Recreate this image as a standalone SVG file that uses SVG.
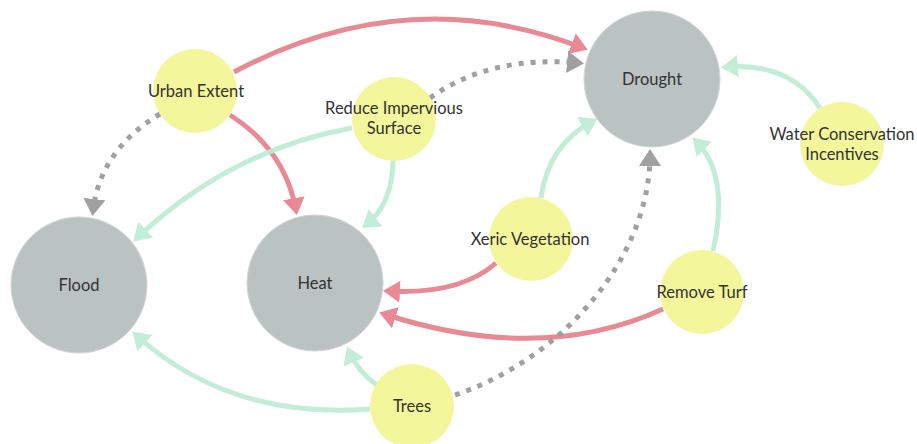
<svg xmlns="http://www.w3.org/2000/svg" width="917" height="444" viewBox="0 0 917 444">
<defs>
<style>
.e{fill:none;stroke-width:5;opacity:0.92}
.red{stroke:#e8808c}
.grn{stroke:#bdecd3}
.dot{stroke:#999999;stroke-dasharray:5 7}
.big{fill:#bbc3c2;stroke:#d3d8d7;stroke-width:1}
.sml{fill:#f3f69b}
text{font-family:Lato,"Open Sans","Liberation Sans",sans-serif;font-size:16.5px;fill:#333333;text-anchor:middle}
</style>
<marker id="ar" viewBox="0 0 17 22" refX="12" refY="11" markerWidth="17" markerHeight="22" markerUnits="userSpaceOnUse" orient="auto"><path d="M0,0 L17,11 L0,22 z" fill="#e8808c"/></marker>
<marker id="ag" viewBox="0 0 17 22" refX="12" refY="11" markerWidth="17" markerHeight="22" markerUnits="userSpaceOnUse" orient="auto"><path d="M0,0 L17,11 L0,22 z" fill="#bdecd3"/></marker>
<marker id="ad" viewBox="0 0 17 22" refX="12" refY="11" markerWidth="17" markerHeight="22" markerUnits="userSpaceOnUse" orient="auto"><path d="M0,0 L17,11 L0,22 z" fill="#999999"/></marker>
</defs>
<g id="connectors">
<path class="e red" d="M234,72 Q408,-20 583,48" marker-end="url(#ar)"/>
<path class="e red" d="M230,115 Q285,150 296,210" marker-end="url(#ar)"/>
<path class="e dot" d="M160,114 Q100,150 93,211" marker-end="url(#ad)"/>
<path class="e dot" d="M430,98 Q490,55 579,63" marker-end="url(#ad)"/>
<path class="e grn" d="M393,161 Q392,205 366,225" marker-end="url(#ag)"/>
<path class="e grn" d="M352,128 Q230,150 137,238" marker-end="url(#ag)"/>
<path class="e grn" d="M820,108 Q790,62 726,67" marker-end="url(#ag)"/>
<path class="e grn" d="M541,198 Q548,145 593,121" marker-end="url(#ag)"/>
<path class="e red" d="M496,263 Q460,295 388,291" marker-end="url(#ar)"/>
<path class="e grn" d="M713,251 Q730,175 696,141" marker-end="url(#ag)"/>
<path class="e red" d="M663,309 Q540,365 384,314" marker-end="url(#ar)"/>
<path class="e dot" d="M455,395 C560,360 650,260 650,154" marker-end="url(#ad)"/>
<path class="e grn" d="M378,386 Q358,372 349,351" marker-end="url(#ag)"/>
<path class="e grn" d="M370,409 Q230,420 136,335" marker-end="url(#ag)"/>
</g>
<g id="drought"><circle class="big" cx="652" cy="79" r="68"/><text x="652" y="85">Drought</text></g>
<g id="flood"><circle class="big" cx="79" cy="285" r="68"/><text x="79" y="291">Flood</text></g>
<g id="heat"><circle class="big" cx="315" cy="283" r="68"/><text x="315" y="289">Heat</text></g>
<g id="urban-extent"><circle class="sml" cx="195" cy="91" r="42"/><text x="196" y="97">Urban Extent</text></g>
<g id="reduce-impervious-surface"><circle class="sml" cx="394" cy="119" r="42"/><text x="394" y="114">Reduce Impervious</text><text x="394" y="134">Surface</text></g>
<g id="water-conservation-incentives"><circle class="sml" cx="842" cy="144" r="42"/><text x="842" y="139.5">Water Conservation</text><text x="842" y="159.5">Incentives</text></g>
<g id="xeric-vegetation"><circle class="sml" cx="531" cy="239" r="42"/><text x="530" y="245">Xeric Vegetation</text></g>
<g id="remove-turf"><circle class="sml" cx="702" cy="292" r="42"/><text x="702" y="298">Remove Turf</text></g>
<g id="trees"><circle class="sml" cx="412" cy="406" r="42"/><text x="412" y="412">Trees</text></g>
</svg>
